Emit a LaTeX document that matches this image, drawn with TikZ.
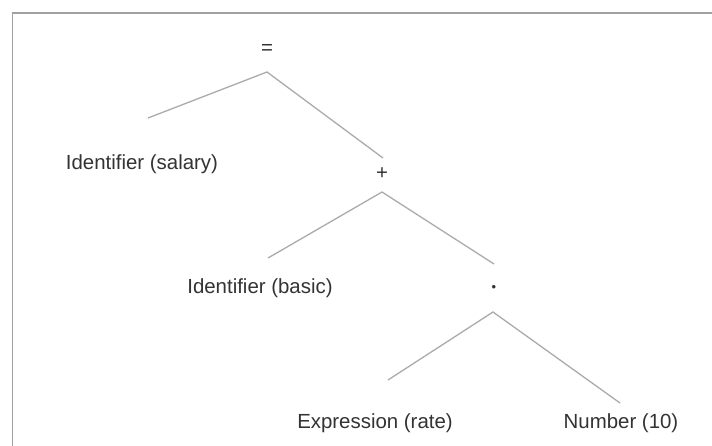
\documentclass[tikz,border=0pt]{standalone}
\usepackage{fontspec}
\setmainfont{Liberation Sans}
\definecolor{edgegray}{HTML}{ABABAB}
\definecolor{framegray}{HTML}{A0A0A0}
\definecolor{labelgray}{HTML}{333333}
\begin{document}
\begin{tikzpicture}[x=1bp,y=-1bp,
  label/.style={inner sep=0pt, text=labelgray, font=\fontsize{20.5}{24}\selectfont},
  op/.style={label},
  edge/.style={draw=edgegray, line width=1.3bp},
  frameline/.style={draw=framegray, line width=1.6bp}]
  \useasboundingbox (0,0) rectangle (712,446);
  \fill[white] (0,0) rectangle (712,446);
  % frame edges
  \draw[frameline] (12.5,446) -- (12.5,13) -- (712,13);

  % operators
  \node[op] (eq) at (267,49) {=};
  \node[op] (plus) at (382,174) {+};
  \node[op, font=\fontsize{13}{15}\selectfont] (mul) at (494,288) {•};

  % operands
  \node[label] (sal) at (142,164) {Identifier (salary)};
  \node[label] (bas) at (260,288) {Identifier (basic)};
  \node[label] (rate) at (375,423) {Expression (rate)};
  \node[label] (num) at (621,423) {Number (10)};

  % branch points
  \coordinate (eqA) at (267,72);
  \coordinate (plusA) at (382,192);
  \coordinate (mulA) at (493,312);
  \coordinate (salE) at (148,118);
  \coordinate (plusE) at (383,158);
  \coordinate (basE) at (268,258);
  \coordinate (mulE) at (494,264);
  \coordinate (rateE) at (388,380);
  \coordinate (numE) at (620,403);

  \draw[edge] (salE) -- (eqA) -- (plusE);
  \draw[edge] (basE) -- (plusA) -- (mulE);
  \draw[edge] (rateE) -- (mulA) -- (numE);
\end{tikzpicture}
\end{document}
